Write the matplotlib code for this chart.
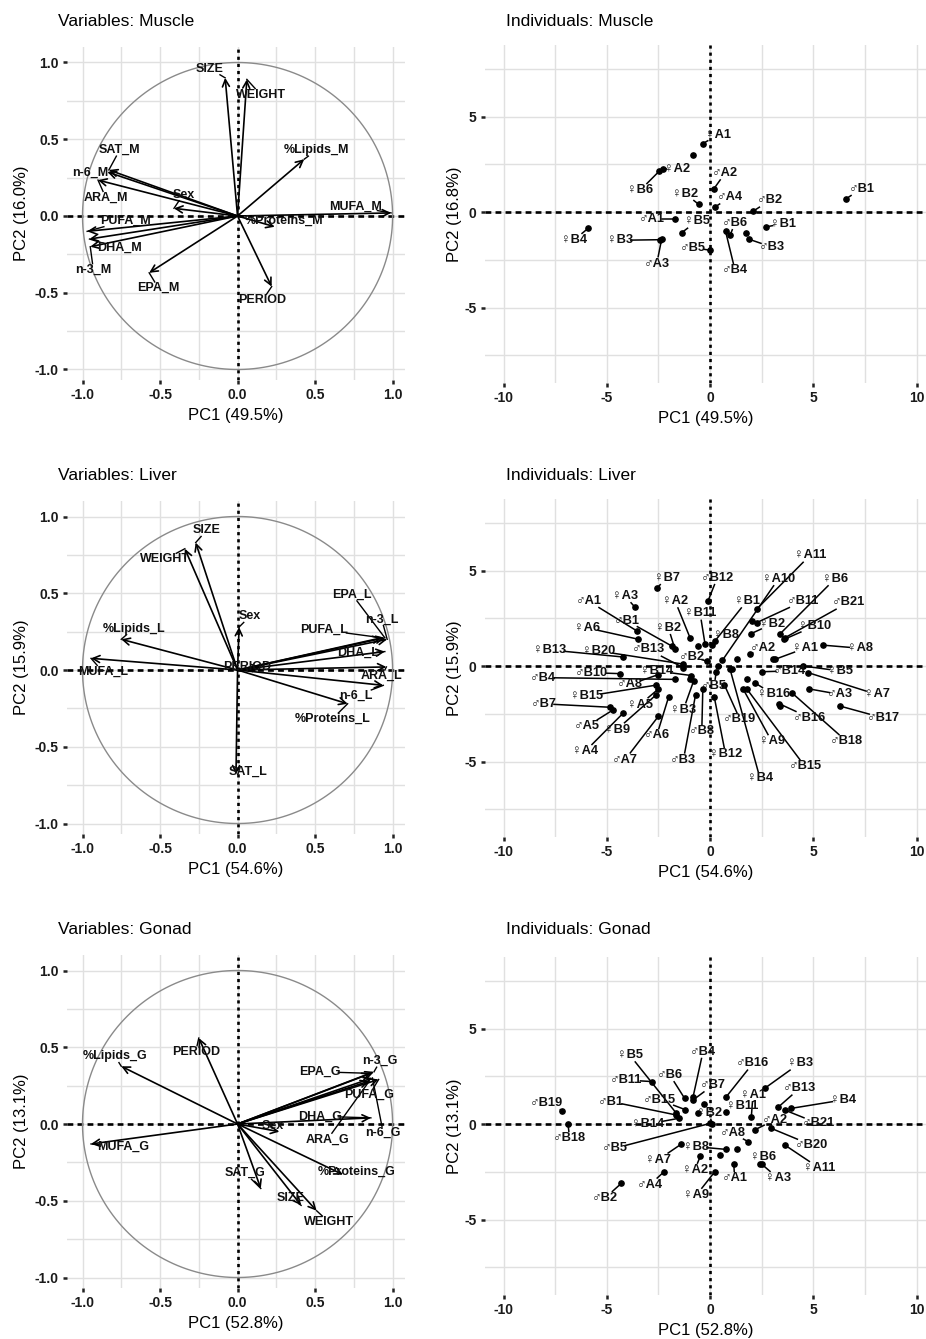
import matplotlib
matplotlib.use('Agg')
import matplotlib.pyplot as plt
import numpy as np

plt.rcParams['font.family'] = ['Liberation Sans', 'DejaVu Sans']

# ---------------- DATA ----------------
# Variables: Muscle
mus_var_names = ['SIZE', 'WEIGHT', '%Lipids_M', 'MUFA_M', '%Proteins_M', 'PERIOD', 'EPA_M',
                 'n-3_M', 'DHA_M', 'PUFA_M', 'Sex', 'ARA_M', 'n-6_M', 'SAT_M']
mus_var_pc1 = [-0.08, 0.06, 0.43, 0.99, 0.24, 0.22, -0.57, -0.95, -0.955, -0.97, -0.41, -0.90, -0.84, -0.83]
mus_var_pc2 = [0.90, 0.89, 0.37, 0.02, -0.07, -0.46, -0.37, -0.20, -0.15, -0.10, 0.05, 0.234, 0.287, 0.30]

# Variables: Liver
liv_var_names = ['SIZE', 'WEIGHT', 'Sex', '%Lipids_L', 'MUFA_L', 'SAT_L', 'PERIOD', 'EPA_L', 'n-3_L',
                 'PUFA_L', 'DHA_L', 'ARA_L', 'n-6_L', '%Proteins_L']
liv_var_pc1 = [-0.27, -0.34, 0.01, -0.75, -0.945, -0.01, 0.15, 0.95, 0.965, 0.93, 0.95, 0.96, 0.94, 0.71]
liv_var_pc2 = [0.83, 0.79, 0.28, 0.20, 0.076, -0.68, 0.02, 0.21, 0.20, 0.21, 0.12, 0.02, -0.10, -0.22]

# Variables: Gonad
gon_var_names = ['%Lipids_G', 'PERIOD', 'MUFA_G', 'EPA_G', 'n-3_G', 'PUFA_G', 'DHA_G', 'n-6_G', 'ARA_G',
                 'Sex', '%Proteins_G', 'SAT_G', 'SIZE', 'WEIGHT']
gon_var_pc1 = [-0.75, -0.25, -0.945, 0.86, 0.88, 0.91, 0.86, 0.87, 0.85, 0.27, 0.68, 0.15, 0.41, 0.51]
gon_var_pc2 = [0.376, 0.56, -0.13, 0.33, 0.34, 0.29, 0.04, 0.30, 0.28, -0.05, -0.33, -0.42, -0.53, -0.565]

# Individuals: Muscle
mus_ind_names = ['♀A1', '', '♀A2', '♀B6', '♂A2', '♀B2', '♂A4', '♂B2', '♂B1', '♂A1', '♀B5', '♂B6',
                 '♀B1', '', '♂B3', '♂B4', '♂B5', '♂A3', '♀B3', '♀B4']
mus_ind_pc1 = [-0.35, -0.84, -2.3, -2.45, 0.19, -0.55, 0.24, 2.1, 6.6, -1.68, -1.37, 0.97,
               2.71, 1.74, 1.9, 0.75, 0.0, -2.34, -2.4, -5.89]
mus_ind_pc2 = [3.58, 2.97, 2.25, 2.15, 1.22, 0.40, 0.26, 0.05, 0.7, -0.35, -1.08, -1.22,
               -0.78, -1.08, -1.43, -1.0, -2.0, -1.40, -1.45, -0.84]

# Individuals: Liver
liv_ind_names = ['♀B7', '♂B12', '♂A1', '♀A3', '♀A2', '♀B11', '♀A6', '♂B1', '♀B2', '♀B13', '♀B20',
                 '♂B13', '♂B2', '♂B4', '♂B10', '♀B14', '♂A8', '♂B7', '♀B15', '♀A5', '♂A5', '♀B9',
                 '♀A4', '♂A7', '♂A6', '♀B3', '♂B8', '♂B3', '♂B5', '♀B12', '♀A11', '♀A10', '♀B6',
                 '♀B1', '♂B11', '♂B21', '♀B2', '♀B10', '♀A1', '♀A8', '♂A2', '♂B14', '♀B5', '♀B8',
                 '♀A7', '♂A3', '♂B17', '♂B16', '♀B16', '♂B18', '♀A9', '♂B15', '♀B4', '♂B19',
                 '', '', '', '', '', '', '', '', '']
liv_ind_pc1 = [-2.55, -0.1, -3.55, -3.63, -0.97, -0.24, -3.47, -1.86, -1.7, -4.2, -1.3,
               -1.29, -0.16, -1.7, -4.36, -0.9, -2.5, -4.84, -2.6, -2.5, -4.7, -2.6,
               -4.2, -2.5, -2.0, -0.8, -0.35, -0.7, 0.3, 0.2, 2.26, 0.6, 3.39,
               0.24, 2.26, 3.63, 2.0, 3.6, 3.15, 5.49, 1.94, 2.5, 4.5, 0.1,
               4.76, 4.8, 6.3, 3.36, 2.2, 3.96, 1.6, 1.78, 0.97, 0.7,
               0.4, 1.05, 1.29, 1.78, -0.97, 2.02, 3.07, 3.39, -0.57]
liv_ind_pc2 = [4.1, 3.4, 1.84, 3.07, 1.48, 1.13, 1.4, 1.05, 0.89, 0.47, 0.1,
               -0.09, 0.26, -0.7, -0.4, -0.5, -0.45, -2.16, -1.0, -1.2, -2.3, -1.5,
               -2.46, -2.63, -1.6, -0.8, -1.2, -1.5, -0.3, -1.6, 2.98, 0.3, 1.68,
               1.31, 2.27, 1.48, 1.7, 1.4, 0.35, 1.09, 0.61, -0.3, 0.0, 1.1,
               -0.35, -1.2, -2.1, -1.98, -0.9, -1.4, -1.2, -1.2, -0.17, -1.0,
               0.0, -0.17, 0.35, -0.7, -0.7, 2.36, 0.35, -2.09, 1.05]

# Individuals: Gonad
gon_ind_names = ['♂B19', '♂B18', '♂B2', '♂A4', '♀A7', '♀B8', '♀A2', '♀A9', '♂A1', '♀B6', '♀A3',
                 '♀A11', '♂B20', '♂B21', '♀B4', '♂B13', '♀B3', '♀A1', '♂A2', '♂A8', '♂B16',
                 '♀B11', '♀B2', '♂B7', '♂B4', '♂B6', '♀B5', '♂B11', '♂B1', '♂B15', '♀B14', '♂B5',
                 '', '', '', '']
gon_ind_pc1 = [-7.15, -6.88, -4.29, -2.23, -1.39, 0.79, -0.47, 0.23, 1.15, 2.4, 2.5,
               3.62, 2.97, 3.62, 3.94, 3.29, 2.65, 2.0, 2.16, 1.84, 0.79,
               0.79, 0.1, -0.82, -0.82, -1.23, -1.63, -2.79, -1.63, -1.2, -1.5, 0.0,
               -0.6, -0.3, 0.5, 1.3]
gon_ind_pc2 = [0.70, 0.0, -3.1, -2.5, -1.05, -1.33, -1.68, -2.5, -2.09, -2.09, -2.1,
               -1.1, -0.23, 0.73, 0.82, 0.87, 1.87, 0.38, -0.31, -0.92, 1.43,
               0.65, 0.0, 1.26, 1.43, 1.34, 0.56, 2.22, 0.47, 0.75, 0.3, 0.03,
               0.55, 1.05, -1.6, -1.3]

# ---------------- LAYOUT (label placement, as done by the repel step) ----------------
mus_var_labxy = [(-0.18, 0.96), (0.15, 0.79), (0.51, 0.43), (0.76, 0.06), (0.30, -0.03), (0.16, -0.55),
                 (-0.51, -0.47), (-0.93, -0.35), (-0.76, -0.21), (-0.72, -0.03), (-0.35, 0.14),
                 (-0.85, 0.12), (-0.95, 0.28), (-0.76, 0.43)]
liv_var_labxy = [(-0.20, 0.91), (-0.47, 0.72), (0.08, 0.35), (-0.67, 0.27), (-0.87, -0.01), (0.07, -0.66),
                 (0.06, 0.02), (0.74, 0.49), (0.93, 0.33), (0.56, 0.26), (0.78, 0.11), (0.93, -0.04),
                 (0.76, -0.17), (0.61, -0.32)]
gon_var_labxy = [(-0.79, 0.44), (-0.27, 0.47), (-0.74, -0.15), (0.53, 0.34), (0.92, 0.41), (0.85, 0.19),
                 (0.53, 0.05), (0.94, -0.06), (0.58, -0.10), (0.23, -0.01), (0.77, -0.31), (0.05, -0.32),
                 (0.34, -0.48), (0.59, -0.64)]
mus_ind_labxy = [(0.4, 4.05), None, (-1.6, 2.27), (-3.39, 1.13), (0.73, 2.04), (-1.2, 0.96), (0.97, 0.78),
                 (2.9, 0.61), (7.34, 1.22), (-2.82, -0.35), (-0.65, -0.49), (1.21, -0.57), (3.55, -0.61),
                 None, (2.98, -1.83), (1.21, -3.05), (-0.81, -1.87), (-2.58, -2.70), (-4.35, -1.48),
                 (-6.6, -1.48)]
liv_ind_labxy = [(-2.1, 4.62), (0.35, 4.62), (-5.89, 3.4), (-4.12, 3.67), (-1.69, 3.4), (-0.48, 2.75),
                 (-5.97, 2.0), (-4.03, 2.37), (-2.02, 2.0), (-7.75, 0.84), (-5.41, 0.79), (-2.99, 0.87),
                 (-0.89, 0.47), (-8.07, -0.61), (-5.73, -0.35), (-2.58, -0.26), (-3.87, -0.96),
                 (-8.07, -1.98), (-5.97, -1.58), (-3.39, -2.02), (-5.97, -3.16), (-4.52, -3.33),
                 (-6.05, -4.47), (-4.12, -4.91), (-2.58, -3.63), (-1.29, -2.28), (-0.4, -3.42),
                 (-1.29, -4.91), (0.2, -1.05), (0.75, -4.62), (4.84, 5.79), (3.31, 4.56), (6.05, 4.56),
                 (1.78, 3.4), (4.52, 3.4), (6.7, 3.33), (2.99, 2.19), (5.08, 2.1), (4.6, 0.93),
                 (7.26, 0.93), (2.58, 0.96), (3.87, -0.26), (6.3, -0.26), (0.75, 1.62), (8.07, -1.49),
                 (6.3, -1.49), (8.39, -2.72), (4.84, -2.72), (3.07, -1.49), (6.62, -3.95), (2.99, -3.95),
                 (4.6, -5.26), (2.42, -5.88), (1.45, -2.8)] + [None] * 9
gon_ind_labxy = [(-7.93, 1.08), (-6.8, -0.75), (-5.1, -3.89), (-2.92, -3.19), (-2.52, -1.88),
                 (-0.66, -1.19), (-0.74, -2.41), (-0.66, -3.72), (1.19, -2.84), (2.57, -1.71),
                 (3.29, -2.84), (5.31, -2.32), (4.91, -1.1), (5.23, 0.03), (6.44, 1.26), (4.34, 1.87),
                 (4.34, 3.18), (2.08, 1.52), (3.13, 0.21), (1.11, -0.49), (2.08, 3.18), (1.55, 0.95),
                 (-0.05, 0.6), (0.15, 2.04), (-0.34, 3.79), (-1.95, 2.57), (-3.89, 3.61), (-4.05, 2.3),
                 (-4.78, 1.17), (-2.44, 1.26), (-3.0, 0.0), (-4.62, -1.27)] + [None] * 4

W, H = 926, 1339
fig = plt.figure(figsize=(W / 100, H / 100), dpi=100)

FS_TICK = 10
FS_TITLE = 12.5
FS_AX = 12


def px_axes(left, top, right, bottom):
    return fig.add_axes([left / W, 1 - bottom / H, (right - left) / W, (bottom - top) / H])


def style(ax, xlim, ylim, major_x, major_y, minor_step, xt_labels, yt_labels):
    ax.set_xlim(*xlim)
    ax.set_ylim(*ylim)
    for s in ax.spines.values():
        s.set_visible(False)
    gx = np.arange(np.ceil(xlim[0] / minor_step) * minor_step, xlim[1] + 1e-9, minor_step)
    gy = np.arange(np.ceil(ylim[0] / minor_step) * minor_step, ylim[1] + 1e-9, minor_step)
    for v in gx:
        ax.axvline(v, color='#e0e0e0', lw=1.0, zorder=0)
    for v in gy:
        ax.axhline(v, color='#e0e0e0', lw=1.0, zorder=0)
    ax.set_xticks(major_x)
    ax.set_xticklabels(xt_labels, fontweight='bold')
    ax.set_yticks(major_y)
    ax.set_yticklabels(yt_labels, fontweight='bold')
    ax.tick_params(length=3, width=1.8, color='#222222', labelsize=FS_TICK, labelcolor='#1a1a1a', pad=3)
    ax.axhline(0, color='black', lw=1.9, ls=(0, (2.2, 1.6)), zorder=1)
    ax.axvline(0, color='black', lw=1.9, ls=(0, (1.2, 1.5)), zorder=1)


def seg_end(px, py, lx, ly, hw, hh):
    dx, dy = lx - px, ly - py
    tx = hw / abs(dx) if abs(dx) > 1e-9 else np.inf
    ty = hh / abs(dy) if abs(dy) > 1e-9 else np.inf
    t = min(tx, ty)
    if t >= 1:
        return None
    return (lx - t * dx, ly - t * dy)


def var_panel(row_zero, title_y, names, pc1, pc2, labxy, title, xlab, ylab):
    ax = px_axes(67, row_zero - 169, 405, row_zero + 164)
    xlim = (-1.1, 1.08)
    ylim = (-164 / 153.5, 169 / 153.5)
    style(ax, xlim, ylim, [-1, -0.5, 0, 0.5, 1], [-1, -0.5, 0, 0.5, 1], 0.25,
          ['-1.0', '-0.5', '0.0', '0.5', '1.0'], ['-1.0', '-0.5', '0.0', '0.5', '1.0'])
    th = np.linspace(0, 2 * np.pi, 400)
    ax.plot(np.cos(th), np.sin(th), color='#8a8a8a', lw=1.0, zorder=2)
    for n, x, y, (lx, ly) in zip(names, pc1, pc2, labxy):
        ax.annotate('', xy=(x, y), xytext=(0, 0),
                    arrowprops=dict(arrowstyle='->,head_length=0.5,head_width=0.25', lw=1.2,
                                    color='black', shrinkA=0, shrinkB=0), zorder=3)
        e = seg_end(x, y, lx, ly, 0.022 * len(n) + 0.01, 0.04)
        if e is not None:
            ax.plot([x, e[0]], [y, e[1]], color='black', lw=1.0, zorder=3)
        ax.text(lx, ly, n, ha='center', va='center', fontsize=9, fontweight='bold',
                color='#111111', zorder=4)
    ax.set_xlabel(xlab, fontsize=FS_AX, labelpad=4)
    ax.set_ylabel(ylab, fontsize=FS_AX, labelpad=4)
    fig.text(58 / W, 1 - title_y / H, title, fontsize=FS_TITLE, ha='left', va='center')
    return ax


def ind_panel(row_zero, title_y, names, pc1, pc2, labxy, title, xlab, ylab):
    ax = px_axes(485, row_zero - 167, 926, row_zero + 171)
    xlim = (-10.9, 10.46)
    ylim = (-171 / 19.1, 167 / 19.1)
    style(ax, xlim, ylim, [-10, -5, 0, 5, 10], [-5, 0, 5], 2.5,
          ['-10', '-5', '0', '5', '10'], ['-5', '0', '5'])
    for n, x, y, lab in zip(names, pc1, pc2, labxy):
        ax.plot([x], [y], 'o', color='black', ms=3.8, zorder=3)
        if lab is None or n == '':
            continue
        lx, ly = lab
        e = seg_end(x, y, lx, ly, 0.17 * len(n), 0.36)
        if e is not None:
            ax.plot([x, e[0]], [y, e[1]], color='black', lw=1.1, zorder=3)
        ax.text(lx, ly, n, ha='center', va='center', fontsize=9.3, fontweight='bold',
                color='#111111', zorder=4)
    ax.set_xlabel(xlab, fontsize=FS_AX, labelpad=4)
    ax.set_ylabel(ylab, fontsize=FS_AX, labelpad=2)
    fig.text(506 / W, 1 - title_y / H, title, fontsize=FS_TITLE, ha='left', va='center')
    return ax


var_panel(216, 21, mus_var_names, mus_var_pc1, mus_var_pc2, mus_var_labxy,
          'Variables: Muscle', 'PC1 (49.5%)', 'PC2 (16.0%)')
ind_panel(212, 21, mus_ind_names, mus_ind_pc1, mus_ind_pc2, mus_ind_labxy,
          'Individuals: Muscle', 'PC1 (49.5%)', 'PC2 (16.8%)')
var_panel(670, 475, liv_var_names, liv_var_pc1, liv_var_pc2, liv_var_labxy,
          'Variables: Liver', 'PC1 (54.6%)', 'PC2 (15.9%)')
ind_panel(666, 475, liv_ind_names, liv_ind_pc1, liv_ind_pc2, liv_ind_labxy,
          'Individuals: Liver', 'PC1 (54.6%)', 'PC2 (15.9%)')
var_panel(1124, 930, gon_var_names, gon_var_pc1, gon_var_pc2, gon_var_labxy,
          'Variables: Gonad', 'PC1 (52.8%)', 'PC2 (13.1%)')
ind_panel(1124, 930, gon_ind_names, gon_ind_pc1, gon_ind_pc2, gon_ind_labxy,
          'Individuals: Gonad', 'PC1 (52.8%)', 'PC2 (13.1%)')

fig.savefig('out.png', dpi=100)
